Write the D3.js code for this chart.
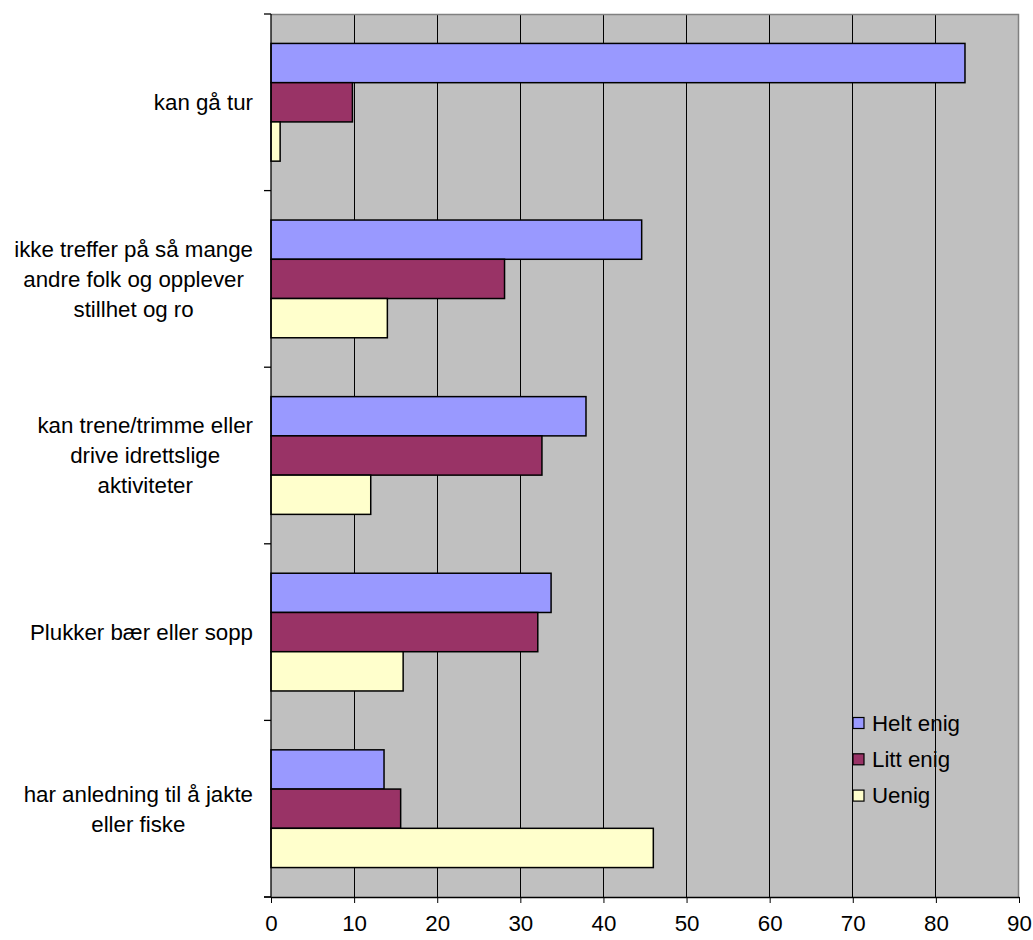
<!DOCTYPE html>
<html><head><meta charset="utf-8">
<script src="https://cdn.jsdelivr.net/npm/d3@7"></script>
<style>body{margin:0;background:#fff}svg{display:block}text{font-family:"Liberation Sans",Arial,sans-serif;fill:#000}</style>
</head><body>
<svg id="c" width="1033" height="940"></svg>
<script>
const categories = [
  ["kan gå tur"],
  ["ikke treffer på så mange","andre folk og opplever","stillhet og ro"],
  ["kan trene/trimme eller","drive idrettslige","aktiviteter"],
  ["Plukker bær eller sopp"],
  ["har anledning til å jakte","eller fiske"]
];
const seriesNames = ["Helt enig","Litt enig","Uenig"];
const seriesColors = ["#9999FF","#993366","#FFFFCC"];
const heltEnig = [83.5, 44.6, 37.9, 33.7, 13.6];
const littEnig = [9.8, 28.1, 32.6, 32.1, 15.6];
const uenig = [1.1, 14.0, 12.0, 15.9, 46.0];
const xTicks = [0,10,20,30,40,50,60,70,80,90];

const series = [heltEnig, littEnig, uenig];
const svg = d3.select("#c");
const L = 271, R = 1019, T = 14, B = 897;
const FS = 22.3;
const x = d3.scaleLinear().domain([0,90]).range([L,R]);
const y = d3.scaleBand().domain(d3.range(categories.length)).range([T,B]).paddingInner(0).paddingOuter(0);
const band = y.bandwidth();
const barH = band/4.5;
const y1 = d3.scaleBand().domain(d3.range(3)).range([0, barH*3]);

svg.append("rect").attr("x",L).attr("y",T).attr("width",R-L).attr("height",B-T).attr("fill","#C0C0C0");
// gridlines
svg.append("g").selectAll("line").data(xTicks.slice(1,-1)).join("line")
  .attr("x1",d=>x(d)).attr("x2",d=>x(d)).attr("y1",T).attr("y2",B)
  .attr("stroke","#000").attr("stroke-width",1).attr("shape-rendering","crispEdges");
// border top/right
svg.append("path").attr("d",`M${L},${T+0.5}H${R-0.5}V${B}`).attr("fill","none").attr("stroke","#808080").attr("stroke-width",1.5);

// bars
const g = svg.append("g");
categories.forEach((c,i)=>{
  series.forEach((s,j)=>{
    g.append("rect")
      .attr("x",x(0)).attr("y",y(i)+(band-barH*3)/2+y1(j))
      .attr("width",x(s[i])-x(0)).attr("height",y1.bandwidth())
      .attr("fill",seriesColors[j]).attr("stroke","#000").attr("stroke-width",1.5);
  });
});

// x axis
const xa = svg.append("g").attr("transform",`translate(0,${B})`).call(d3.axisBottom(x).tickValues(xTicks).tickSize(6).tickPadding(12).tickSizeOuter(0));
xa.select(".domain").attr("stroke","#000").attr("stroke-width",1.3);
xa.selectAll(".tick line").attr("stroke","#000");
xa.selectAll("text").attr("font-size",FS).attr("font-family","Liberation Sans, Arial, sans-serif");
// extend axis line left
svg.append("line").attr("x1",L-7).attr("x2",L).attr("y1",B).attr("y2",B).attr("stroke","#000").attr("stroke-width",1.3);

// y axis
svg.append("line").attr("x1",L).attr("x2",L).attr("y1",T).attr("y2",B).attr("stroke","#000").attr("stroke-width",1.3);
svg.append("g").selectAll("line").data(d3.range(categories.length+1)).join("line")
  .attr("x1",L-7).attr("x2",L).attr("y1",d=>T+d*band).attr("y2",d=>T+d*band).attr("stroke","#000").attr("stroke-width",1.3);

// category labels (block right-aligned, lines centered)
const lh = 30;
categories.forEach((lines,i)=>{
  const cy = y(i)+band/2;
  const tg = svg.append("g");
  const texts = lines.map((t,k)=>tg.append("text").attr("font-size",FS).attr("text-anchor","middle")
     .attr("y",cy+(k-(lines.length-1)/2)*lh).attr("dy","0.35em").text(t));
  const w = d3.max(texts,t=>t.node().getComputedTextLength());
  texts.forEach(t=>t.attr("x",253-w/2));
});

// legend
const lg = svg.append("g");
seriesNames.forEach((n,j)=>{
  const ly = 723 + j*36.3;
  lg.append("rect").attr("x",853).attr("y",ly-5.5).attr("width",11).attr("height",11)
    .attr("fill",seriesColors[j]).attr("stroke","#000").attr("stroke-width",1.2);
  lg.append("text").attr("x",872).attr("y",ly).attr("dy","0.35em").attr("font-size",FS).text(n);
});
</script>
</body></html>
